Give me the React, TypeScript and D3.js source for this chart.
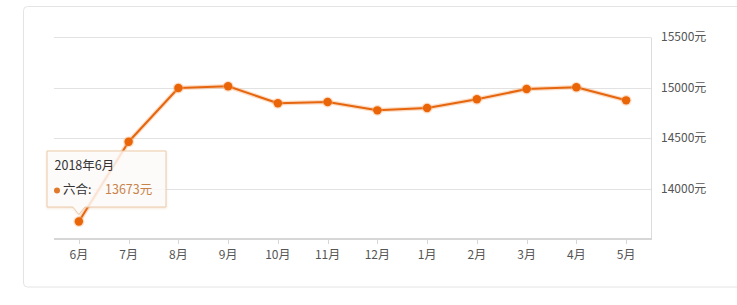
import React from "react";
import * as d3 from "d3";

const categories = ["6月", "7月", "8月", "9月", "10月", "11月", "12月", "1月", "2月", "3月", "4月", "5月"];
const prices = [13673, 14463, 14995, 15012, 14844, 14856, 14774, 14797, 14883, 14985, 15002, 14873];
const yTicks = [14000, 14500, 15000, 15500];
const seriesName = "六合";
const tooltipTitle = "2018年6月";

const W = 737;
const H = 305;
const FONT = "'Noto Sans CJK SC', 'Noto Sans', sans-serif";

export default function App() {
  const x = d3.scaleBand<string>().domain(categories).range([54, 651]);
  const y = d3.scaleLinear().domain([13500, 15500]).range([239, 37]);
  const cx = (c: string) => (x(c) ?? 0) + x.bandwidth() / 2;

  const line = d3
    .line<number>()
    .x((_, i) => cx(categories[i]))
    .y((d) => y(d));
  const path = line(prices) ?? "";

  const tipIdx = 0;
  const tx = cx(categories[tipIdx]);
  const ty = y(prices[tipIdx]);
  const boxL = 47, boxT = 151, boxR = 166, boxB = 207;
  const tipPath = `M${boxL},${boxT} H${boxR} V${boxB} H${tx + 6} L${tx},${ty - 7} L${tx - 6},${boxB} H${boxL} Z`;

  return (
    <svg width={W} height={H} style={{ position: "absolute", left: 0, top: 0, background: "#fff" }} fontFamily={FONT}>
      <defs>
        <filter id="tipShadow" x="-20%" y="-20%" width="140%" height="150%">
          <feDropShadow dx="0" dy="1" stdDeviation="1.2" floodColor="#d9b08a" floodOpacity="0.35" />
        </filter>
      </defs>
      {/* card */}
      <rect x={23.5} y={6.5} width={740} height={280.5} rx={4} fill="#fff" stroke="#e4e4e4" />

      {/* grid */}
      {yTicks.map((t) => (
        <line key={t} x1={54} x2={651} y1={Math.round(y(t)) + 0.5} y2={Math.round(y(t)) + 0.5} stroke="#e2e2e2" />
      ))}
      {/* right axis line */}
      <line x1={651.5} x2={651.5} y1={Math.round(y(15500)) + 0.5} y2={239} stroke="#dcdcdc" />
      {/* bottom axis */}
      <line x1={54} x2={652} y1={239} y2={239} stroke="#d6d6d6" strokeWidth={2} />
      {categories.map((c) => (
        <line key={c} x1={Math.round(cx(c)) + 0.5} x2={Math.round(cx(c)) + 0.5} y1={240} y2={244} stroke="#d6d6d6" />
      ))}

      {/* y labels */}
      {yTicks.map((t) => (
        <text key={t} x={661} y={y(t)} dy="0.35em" fontSize={12} fill="#555">
          {t}元
        </text>
      ))}
      {/* x labels */}
      {categories.map((c) => (
        <text key={c} x={cx(c)} y={255} dy="0.35em" fontSize={12} fill="#555" textAnchor="middle">
          {c}
        </text>
      ))}

      {/* series */}
      <path d={path} fill="none" stroke="#f6b27c" strokeOpacity={0.45} strokeWidth={4.5} strokeLinejoin="round" />
      <path d={path} fill="none" stroke="#e6660f" strokeWidth={2} strokeLinejoin="round" />
      {prices.map((v, i) => (
        <g key={i}>
          <circle cx={cx(categories[i])} cy={y(v)} r={5.5} fill="#f6b27c" fillOpacity={0.4} />
          <circle cx={cx(categories[i])} cy={y(v)} r={4.2} fill="#ea6408" />
        </g>
      ))}

      {/* tooltip */}
      <path d={tipPath} fill="#fff" fillOpacity={0.78} stroke="#eccaa8" strokeWidth={1} filter="url(#tipShadow)" />
      <text x={54.5} y={166} dy="0.35em" fontSize={12.5} fill="#333">
        {tooltipTitle}
      </text>
      <circle cx={57} cy={190.5} r={3} fill="#e07a2a" />
      <text x={63} y={190} dy="0.35em" fontSize={12.5} fill="#333">
        {seriesName}:
      </text>
      <text x={105} y={190} dy="0.35em" fontSize={12.5} fill="#c8834a">
        {prices[tipIdx]}元
      </text>
    </svg>
  );
}
